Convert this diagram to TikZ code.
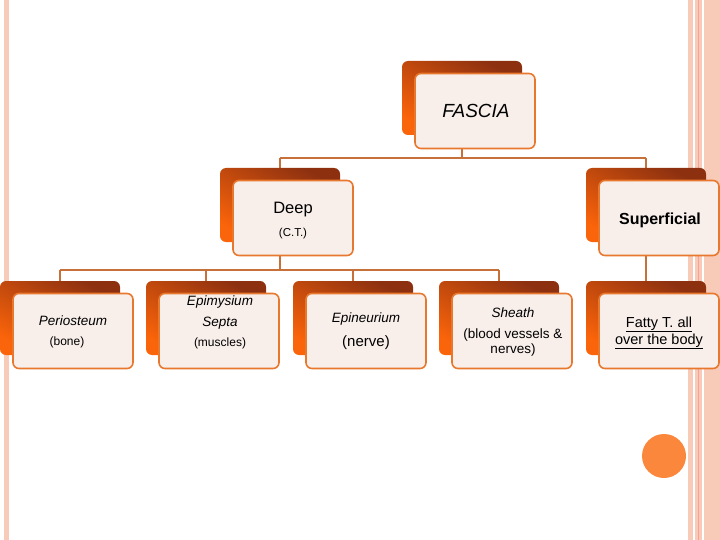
\documentclass[tikz,border=0pt]{standalone}
\usepackage{fontspec}
\setmainfont{Liberation Sans}
\usepackage{tikz}
\usetikzlibrary{calc}
\definecolor{edge}{HTML}{E8782E}
\definecolor{link}{HTML}{C8703A}
\definecolor{stripe}{HTML}{F8CBB8}
\definecolor{card}{HTML}{F8EEEA}
\definecolor{hot}{HTML}{FA640A}
\definecolor{burnt}{HTML}{8C3010}
\definecolor{dot}{HTML}{FA873C}
\tikzset{
  back/.style={rounded corners=6pt, minimum width=120pt, minimum height=74pt,
    inner sep=0pt, bottom color=hot, top color=burnt, shading angle=-30},
  front/.style={rounded corners=6pt, minimum width=120pt, minimum height=75pt,
    inner sep=0pt, draw=edge, line width=1.6pt, fill=card},
  conn/.style={draw=link, line width=2.4pt},
  lbl/.style={font=\fontsize{#1}{#1}\selectfont},
  lbli/.style={font=\fontsize{#1}{#1}\selectfont\itshape}
}
\newcommand{\catbox}[3]{% name, back-centre x, back-centre y
  \node[back] (#1b) at (#2,#3) {};
  \node[front] (#1) at ($(#1b)+(13,13)$) {};
}
\begin{document}
\begin{tikzpicture}[x=1pt,y=-1pt]
  \useasboundingbox (0,0) rectangle (720,540);
  % side stripes
  \fill[stripe] (4,0) rectangle (9,540);
  \fill[stripe] (688,0) rectangle (720,540);
  \fill[white] (693,0) rectangle (695,540);
  \fill[white] (702,0) rectangle (704,540);
  \draw[stripe!80!red, line width=0.6pt] (698,0) -- (698,540);

  % connectors
  \coordinate (top) at (462,98);
  \coordinate (bus1l) at (280,158);
  \coordinate (bus1r) at (646,158);
  \coordinate (bus2l) at (60,270);
  \coordinate (bus2r) at (499,270);
  \draw[conn] (top) -- (462,158);
  \draw[conn] (bus1l) -- (bus1r);
  \draw[conn] (bus1l) -- (280,205);
  \draw[conn] (bus1r) -- (646,300);
  \draw[conn] (280,230) -- (280,270);
  \draw[conn] (bus2l) -- (bus2r);
  \foreach \x in {60,206,353,499} \draw[conn] (\x,270) -- (\x,300);

  % boxes
  \catbox{fascia}{462}{98}
  \catbox{deep}{280}{205}
  \catbox{sup}{646}{205}
  \catbox{peri}{60}{318}
  \catbox{epim}{206}{318}
  \catbox{epin}{353}{318}
  \catbox{sheath}{499}{318}
  \catbox{fatty}{646}{318}

  % labels
  \node[lbli=19] at (476,111) {FASCIA};
  \node[lbl=16.5] at (293,210) {Deep};
  \node[lbl=11.5] at (293,234) {(C.T.)};
  \node[font=\fontsize{16}{16}\selectfont\bfseries] at (660,220) {Superficial};
  \node[lbli=13.5] at (73,321) {Periosteum};
  \node[lbl=12] at (67,342) {(bone)};
  \node[lbli=13.5] at (220,302) {Epimysium};
  \node[lbli=13.5] at (220,323) {Septa};
  \node[lbl=12] at (220,343) {(muscles)};
  \node[lbli=13.5] at (366,319) {Epineurium};
  \node[lbl=15] at (366,343) {(nerve)};
  \node[lbli=13.5] at (513,313) {Sheath};
  \node[lbl=13.5] at (513,335) {(blood vessels \&};
  \node[lbl=13.5] at (513,350) {nerves)};
  \node[lbl=14.5, anchor=base] at (659,327) {\underline{Fatty T. all}};
  \node[lbl=14.5, anchor=base] at (659,344) {\underline{over the body}};

  % dot
  \fill[dot] (664,456) circle (22);
\end{tikzpicture}
\end{document}
